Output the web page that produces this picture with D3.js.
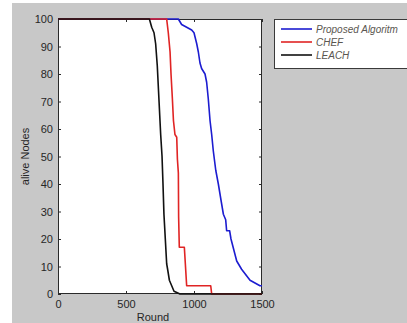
<!DOCTYPE html>
<html>
<head>
<meta charset="utf-8">
<script src="https://cdn.jsdelivr.net/npm/d3@7"></script>
<style>
  html, body { margin: 0; padding: 0; background: #ffffff; }
  svg { display: block; font-family: "Liberation Sans", Arial, sans-serif; }
</style>
</head>
<body>
<svg id="chart" width="407" height="323"></svg>
<script>
// Alive nodes per round for each clustering protocol
const seriesNames = ["Proposed Algoritm", "CHEF", "LEACH"];
const seriesColors = ["#1c1cd0", "#e02424", "#111111"];

const proposedRound = [0, 885, 909, 946, 983, 1000, 1020, 1032, 1044, 1056, 1081, 1093, 1105, 1118, 1130, 1142, 1160, 1179, 1199, 1216, 1233, 1240, 1262, 1272, 1314, 1350, 1412, 1485, 1500];
const proposedAlive = [100, 100, 98, 97, 96, 95, 91, 88, 84, 82, 80, 77, 71, 63, 58, 52, 45, 40, 34, 29, 27, 23, 23, 20, 12, 9, 5, 3, 3];

const chefRound = [0, 799, 811, 824, 831, 841, 849, 860, 873, 878, 885, 887, 892, 929, 946, 1123, 1130, 1500];
const chefAlive = [100, 100, 95, 88, 80, 71, 63, 58, 57, 49, 44, 28, 17, 17, 3, 3, 0, 0];

const leachRound = [0, 672, 689, 706, 718, 730, 743, 755, 765, 772, 779, 789, 799, 806, 819, 836, 853, 897, 1500];
const leachAlive = [100, 100, 97, 95, 91, 83, 70, 58, 50, 40, 29, 20, 11, 9, 5, 3, 1, 0, 0];

const xTicks = [0, 500, 1000, 1500];
const yTicks = [0, 10, 20, 30, 40, 50, 60, 70, 80, 90, 100];

const svg = d3.select("#chart");
const W = 407, H = 323;

// figure background with its light border strip
svg.append("rect").attr("x", 0).attr("y", 0).attr("width", W).attr("height", H).attr("fill", "#ffffff");
svg.append("rect").attr("x", 12).attr("y", 3).attr("width", W - 12).attr("height", H - 3).attr("fill", "#c8c8c8");

const plot = { left: 58, right: 262, top: 19, bottom: 294 };
const x = d3.scaleLinear().domain([0, 1500]).range([plot.left, plot.right]);
const y = d3.scaleLinear().domain([0, 100]).range([plot.bottom, plot.top]);

// axes area
svg.append("rect")
  .attr("x", plot.left).attr("y", plot.top)
  .attr("width", plot.right - plot.left).attr("height", plot.bottom - plot.top)
  .attr("fill", "#ffffff");

const tickLen = 3;
const axisColor = "#2a2a2a";
const labelColor = "#262626";

// inner tick marks on all four sides
const xAxisBottom = d3.axisBottom(x).tickValues(xTicks).tickSizeInner(-tickLen).tickSizeOuter(0).tickFormat(d3.format("d")).tickPadding(6);
const xAxisTop = d3.axisTop(x).tickValues(xTicks).tickSizeInner(-tickLen).tickSizeOuter(0).tickFormat("");
const yAxisLeft = d3.axisLeft(y).tickValues(yTicks).tickSizeInner(-tickLen).tickSizeOuter(0).tickFormat(d3.format("d")).tickPadding(5);
const yAxisRight = d3.axisRight(y).tickValues(yTicks).tickSizeInner(-tickLen).tickSizeOuter(0).tickFormat("");

function styleAxis(g) {
  g.select(".domain").remove();
  g.selectAll(".tick line").attr("stroke", axisColor).attr("stroke-width", 1);
  g.selectAll(".tick text").attr("fill", labelColor).attr("font-size", 11)
    .attr("font-family", "'Liberation Sans', Arial, sans-serif");
}

svg.append("g").attr("transform", `translate(0,${plot.bottom})`).call(xAxisBottom).call(styleAxis);
svg.append("g").attr("transform", `translate(0,${plot.top})`).call(xAxisTop).call(styleAxis);
svg.append("g").attr("transform", `translate(${plot.left},0)`).call(yAxisLeft).call(styleAxis);
svg.append("g").attr("transform", `translate(${plot.right},0)`).call(yAxisRight).call(styleAxis);

// axes box
svg.append("rect")
  .attr("x", plot.left + 0.5).attr("y", plot.top + 0.5)
  .attr("width", plot.right - plot.left - 1).attr("height", plot.bottom - plot.top - 1)
  .attr("fill", "none").attr("stroke", axisColor).attr("stroke-width", 1);

// survival curves, LEACH drawn last so it sits on top
const series = [
  { rounds: proposedRound, alive: proposedAlive },
  { rounds: chefRound, alive: chefAlive },
  { rounds: leachRound, alive: leachAlive }
];
const line = d3.line().x(d => x(d[0])).y(d => y(d[1]));
series.forEach((s, i) => {
  const pts = s.rounds.map((r, k) => [r, s.alive[k]]);
  svg.append("path")
    .attr("d", line(pts))
    .attr("fill", "none")
    .attr("stroke", seriesColors[i])
    .attr("stroke-width", 1.6)
    .attr("stroke-linejoin", "round");
});

// axis titles
svg.append("text")
  .attr("x", 153).attr("y", 321)
  .attr("text-anchor", "middle")
  .attr("font-size", 11).attr("fill", labelColor)
  .text("Round");
svg.append("text")
  .attr("transform", `translate(29,${(plot.top + plot.bottom) / 2}) rotate(-90)`)
  .attr("text-anchor", "middle")
  .attr("font-size", 11).attr("fill", labelColor)
  .text("alive Nodes");

// legend
const legend = svg.append("g");
legend.append("rect")
  .attr("x", 274.5).attr("y", 19.5).attr("width", 140).attr("height", 49)
  .attr("fill", "#ffffff").attr("stroke", "#3a3a3a").attr("stroke-width", 1);
const rowY = [29, 42, 55];
seriesNames.forEach((name, i) => {
  legend.append("line")
    .attr("x1", 281).attr("x2", 312).attr("y1", rowY[i]).attr("y2", rowY[i])
    .attr("stroke", seriesColors[i]).attr("stroke-width", 1.6);
  legend.append("text")
    .attr("x", 316).attr("y", rowY[i] + 4)
    .attr("font-size", 10).attr("font-style", "italic").attr("fill", "#5a5650")
    .text(name);
});
</script>
</body>
</html>
